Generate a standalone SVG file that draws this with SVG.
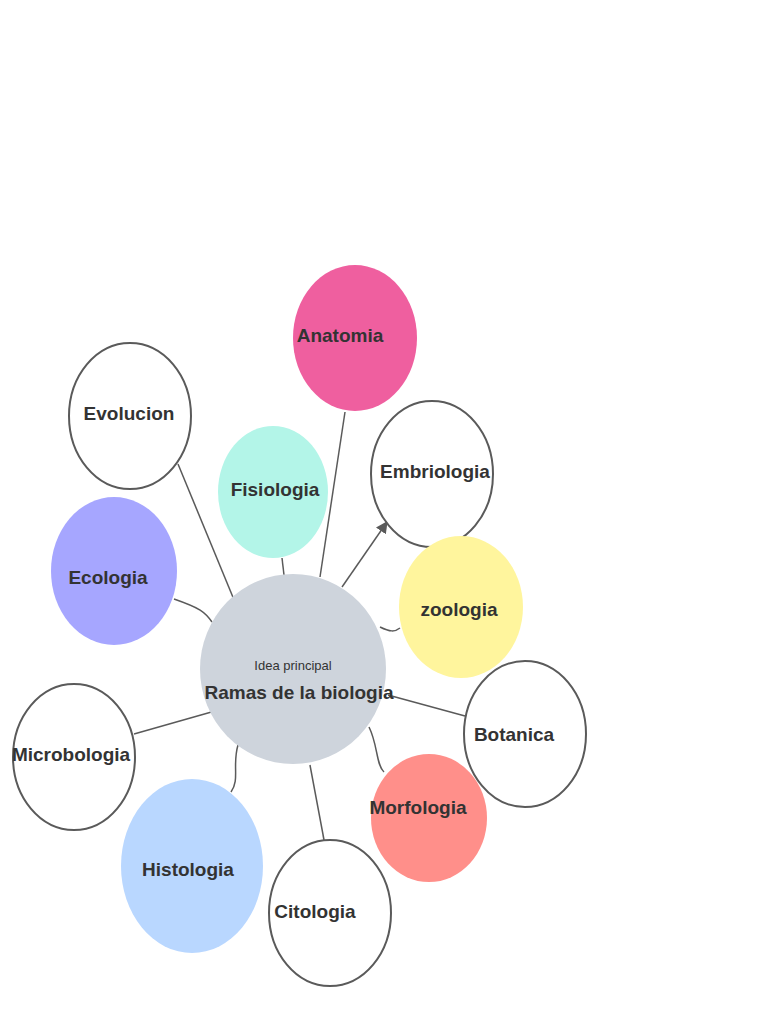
<svg xmlns="http://www.w3.org/2000/svg" width="768" height="1024" viewBox="0 0 768 1024">
<style>
.n{stroke:#5a5a5a;stroke-width:2}
.w{fill:#fff}
.t{font-family:"Liberation Sans Narrow","Liberation Sans",Arial,sans-serif;font-weight:bold;font-size:19px;fill:#333;text-anchor:middle}
.c{fill:none;stroke:#5a5a5a;stroke-width:1.5}
</style>
<defs><marker id="a" viewBox="0 0 10 10" refX="9" refY="5" markerWidth="8" markerHeight="8" orient="auto"><path d="M0,0L10,5L0,10z" fill="#5a5a5a"/></marker></defs>
<rect width="768" height="1024" fill="#fff"/>
<g id="connectors">
<line class="c" x1="178" y1="464" x2="237" y2="607"/>
<line class="c" x1="345" y1="412" x2="320" y2="577"/>
<line class="c" x1="282" y1="558" x2="284" y2="575"/>
<line class="c" x1="342" y1="587" x2="387" y2="522" marker-end="url(#a)"/>
<path class="c" d="M174,599 C200,608 205,612 212,622"/>
<path class="c" d="M380,627 C390,632 395,632 400,628"/>
<line class="c" x1="388" y1="695" x2="465" y2="716"/>
<line class="c" x1="134" y1="734" x2="215" y2="711"/>
<path class="c" d="M369,727 C378,745 376,765 384,772"/>
<path class="c" d="M238,745 C232,765 240,780 231,792"/>
<line class="c" x1="310" y1="765" x2="324" y2="840"/>
</g>
<g id="anatomia"><ellipse cx="355" cy="338" rx="62" ry="73" fill="#ef5f9f"/><text class="t" x="340" y="342">Anatomia</text></g>
<g id="evolucion"><ellipse class="n w" cx="130" cy="416" rx="61" ry="73"/><text class="t" x="129" y="420">Evolucion</text></g>
<g id="embriologia"><ellipse class="n w" cx="432" cy="474" rx="61" ry="73"/><text class="t" x="435" y="478">Embriologia</text></g>
<g id="fisiologia"><ellipse cx="273" cy="492" rx="55" ry="66" fill="#b3f5e8"/><text class="t" x="275" y="496">Fisiologia</text></g>
<g id="ecologia"><ellipse cx="114" cy="571" rx="63" ry="74" fill="#a6a6ff"/><text class="t" x="108" y="584">Ecologia</text></g>
<g id="zoologia"><ellipse cx="461" cy="607" rx="62" ry="71" fill="#fff59d"/><text class="t" x="459" y="616">zoologia</text></g>
<g id="centro"><ellipse cx="293" cy="669" rx="93" ry="95" fill="#ced4dc"/><text x="293" y="670" style="font-family:'Liberation Sans Narrow','Liberation Sans',Arial,sans-serif;font-size:13px;fill:#333;text-anchor:middle">Idea principal</text><text class="t" x="299" y="699">Ramas de la biologia</text></g>
<g id="microbologia"><ellipse class="n w" cx="74" cy="757" rx="61" ry="73"/><text class="t" x="71" y="761">Microbologia</text></g>
<g id="botanica"><ellipse class="n w" cx="525" cy="734" rx="61" ry="73"/><text class="t" x="514" y="741">Botanica</text></g>
<g id="morfologia"><ellipse cx="429" cy="818" rx="58" ry="64" fill="#ff8f8a"/><text class="t" x="418" y="814">Morfologia</text></g>
<g id="histologia"><ellipse cx="192" cy="866" rx="71" ry="87" fill="#b9d7ff"/><text class="t" x="188" y="876">Histologia</text></g>
<g id="citologia"><ellipse class="n w" cx="330" cy="913" rx="61" ry="73"/><text class="t" x="315" y="918">Citologia</text></g>
</svg>
